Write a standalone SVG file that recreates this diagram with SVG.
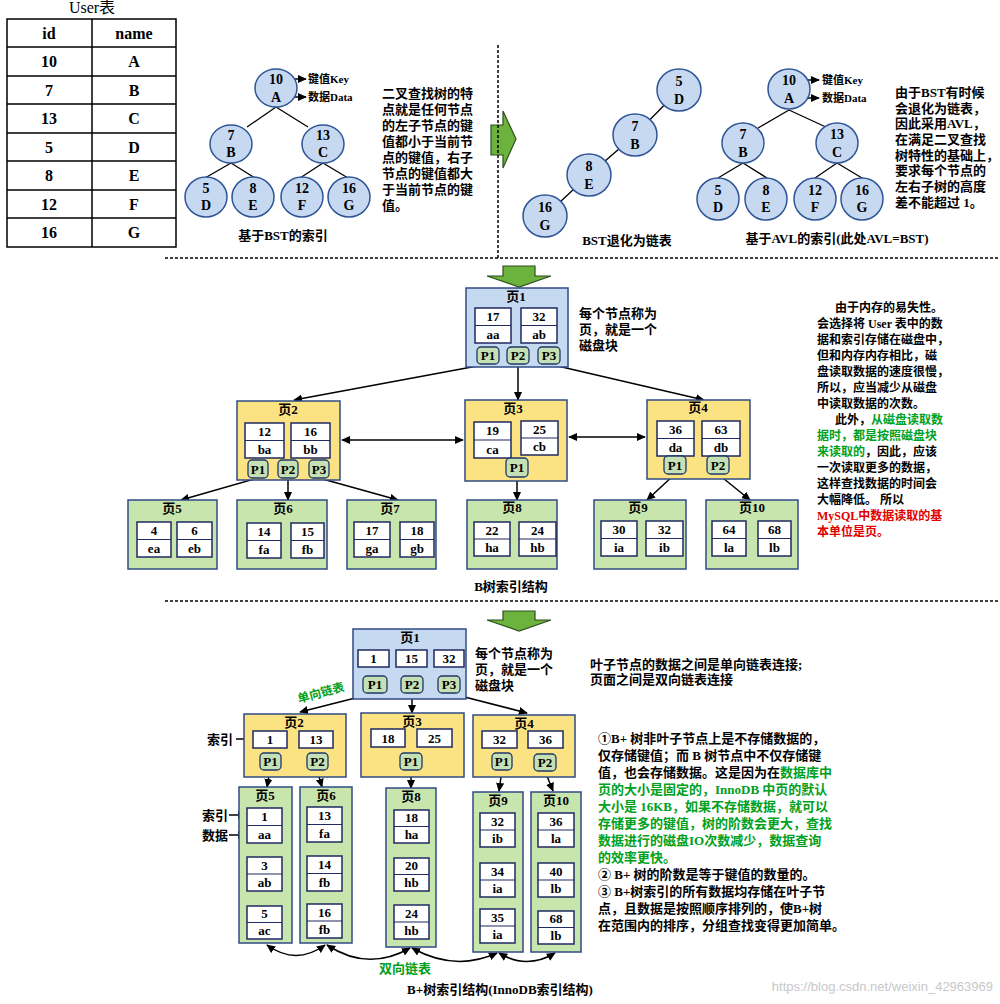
<svg xmlns="http://www.w3.org/2000/svg" width="1000" height="1004" viewBox="0 0 1000 1004">
<defs>
<marker id="ah" viewBox="0 0 10 10" refX="9" refY="5" markerWidth="6" markerHeight="6" orient="auto-start-reverse"><path d="M0,0.5 L10,5 L0,9.5 z" fill="#000"/></marker>
<style>
text{font-family:"Liberation Serif","Noto Sans CJK SC",serif;font-weight:bold;font-size:13px;fill:#000}
.m{text-anchor:middle}
.s14{font-size:14px}
.s11{font-size:11px}
.s12{font-size:12px}
.s16{font-size:16px}
.bn{fill:#c6d9f1;stroke:#2f5597;stroke-width:1.5}
.pb{fill:#c5d9f1;stroke:#2f4b85;stroke-width:1.5}
.py{fill:#fbe384;stroke:#2f4b85;stroke-width:1.5}
.pg{fill:#c9e5ae;stroke:#2f4b85;stroke-width:1.5}
.kb{fill:#fff;stroke:#1f2a60;stroke-width:1.5}
.kd{stroke:#1f2a60;stroke-width:1.2}
.pp{fill:#c5e0b4;stroke:#1f3864;stroke-width:1.3}
.cn{stroke:#000;stroke-width:1.3;fill:none}
.ar{stroke:#000;stroke-width:1.5;fill:none;marker-end:url(#ah)}
.ar2{stroke:#000;stroke-width:1.5;fill:none;marker-start:url(#ah);marker-end:url(#ah)}
.dash{stroke:#000;stroke-width:1.5;stroke-dasharray:3 2;fill:none}
.gr{fill:#00a020}
.rd{fill:#e00000}
.big{fill:#6cb33e;stroke:#2e4e1e;stroke-width:1.2}
.tb{stroke:#000;stroke-width:1.5;fill:none}
</style>
</defs>
<rect width="1000" height="1004" fill="#fff"/>

<!-- User table -->
<g id="user-table">
<text class="m s16" x="92" y="13" style="font-weight:normal">User表</text>
<rect class="tb" x="7" y="19" width="169" height="228"/>
<path class="tb" d="M7,47H176M7,76H176M7,104H176M7,133H176M7,161H176M7,190H176M7,218H176M92,19V247"/>
<text class="m s16" x="49" y="39">id</text><text class="m s16" x="134" y="39">name</text>
<text class="m s16" x="49" y="67">10</text><text class="m s16" x="134" y="67">A</text>
<text class="m s16" x="49" y="96">7</text><text class="m s16" x="134" y="96">B</text>
<text class="m s16" x="49" y="124">13</text><text class="m s16" x="134" y="124">C</text>
<text class="m s16" x="49" y="153">5</text><text class="m s16" x="134" y="153">D</text>
<text class="m s16" x="49" y="181">8</text><text class="m s16" x="134" y="181">E</text>
<text class="m s16" x="49" y="210">12</text><text class="m s16" x="134" y="210">F</text>
<text class="m s16" x="49" y="238">16</text><text class="m s16" x="134" y="238">G</text>
</g>

<!-- connectors -->
<g id="connectors">
<path class="cn" d="M276,107L247,127M276,107L308,127M231,163L205,178M231,163L255,178M323,163L300,178M323,163L348,178"/>
<path class="ar" d="M287,79H306"/><path class="ar" d="M287,97H306"/>
<path class="cn" d="M545,216L589,175L635,135L679,90"/>
<path class="cn" d="M789,110L758,128M789,110L828,128M743,163L718,178M743,163L767,178M837,163L815,178M837,163L862,178"/>
<path class="ar" d="M800,80H819"/><path class="ar" d="M800,98H819"/>
<path class="ar" d="M488,364L294,400"/>
<path class="ar" d="M518,364V400"/>
<path class="ar" d="M549,364L704,400"/>
<path class="ar2" d="M342,440H463"/>
<path class="ar2" d="M569,437H645"/>
<path class="ar" d="M258,478L181,500"/>
<path class="ar" d="M288,478V500"/>
<path class="ar" d="M319,478L398,500"/>
<path class="ar" d="M517,477V500"/>
<path class="ar" d="M675,474L647,500"/>
<path class="ar" d="M718,474L750,500"/>
<path class="ar" d="M375,693L300,712"/>
<path class="ar" d="M412,693V713"/>
<path class="ar" d="M449,693L527,713"/>
<path class="ar" d="M236,739H252"/>
<path class="ar" d="M270,770L267,787"/>
<path class="ar" d="M317,770L322,787"/>
<path class="ar" d="M411,770V788"/>
<path class="ar" d="M502,770L499,791"/>
<path class="ar" d="M545,771L553,791"/>
<path class="ar" d="M229,815H246"/>
<path class="ar" d="M229,835H246"/>
<path class="ar2" d="M267,945Q296,966 325,945"/>
<path class="ar2" d="M327,945Q368,972 410,948"/>
<path class="ar2" d="M412,948Q455,972 497,953"/>
<path class="ar2" d="M499,953Q527,970 555,953"/>
</g>

<!-- BST nodes -->
<g id="bst-10"><ellipse class="bn" cx="276" cy="88" rx="21" ry="19"/><text class="m s14" x="276" y="84">10</text><text class="m s14" x="276" y="102">A</text></g>
<g id="bst-7"><ellipse class="bn" cx="231" cy="144" rx="21" ry="19"/><text class="m s14" x="231" y="140">7</text><text class="m s14" x="231" y="157">B</text></g>
<g id="bst-13"><ellipse class="bn" cx="323" cy="144" rx="21" ry="19"/><text class="m s14" x="323" y="140">13</text><text class="m s14" x="323" y="157">C</text></g>
<g id="bst-5"><ellipse class="bn" cx="206" cy="197" rx="21" ry="20"/><text class="m s14" x="206" y="193">5</text><text class="m s14" x="206" y="210">D</text></g>
<g id="bst-8"><ellipse class="bn" cx="253" cy="197" rx="21" ry="20"/><text class="m s14" x="253" y="193">8</text><text class="m s14" x="253" y="210">E</text></g>
<g id="bst-12"><ellipse class="bn" cx="302" cy="197" rx="21" ry="20"/><text class="m s14" x="302" y="193">12</text><text class="m s14" x="302" y="210">F</text></g>
<g id="bst-16"><ellipse class="bn" cx="349" cy="197" rx="21" ry="20"/><text class="m s14" x="349" y="193">16</text><text class="m s14" x="349" y="210">G</text></g>
<g id="bst-labels"><text class="s11" x="308" y="83">键值Key</text><text class="s11" x="308" y="101">数据Data</text>
<text class="m" x="283" y="240">基于BST的索引</text></g>

<g id="bst-desc">
<text x="382" y="98">二叉查找树的特</text>
<text x="382" y="114">点就是任何节点</text>
<text x="382" y="130">的左子节点的键</text>
<text x="382" y="146">值都小于当前节</text>
<text x="382" y="162">点的键值，右子</text>
<text x="382" y="178">节点的键值都大</text>
<text x="382" y="194">于当前节点的键</text>
<text x="382" y="210">值。</text>
</g>

<g id="arrow-right"><polygon class="big" points="491,125 503,125 503,111 516,139 503,168 503,155 491,155"/></g>
<path class="dash" d="M498,45V258"/>

<g id="chain-5"><ellipse class="bn" cx="679" cy="90" rx="22" ry="21"/><text class="m s14" x="679" y="86">5</text><text class="m s14" x="679" y="104">D</text></g>
<g id="chain-7"><ellipse class="bn" cx="635" cy="135" rx="22" ry="21"/><text class="m s14" x="635" y="131">7</text><text class="m s14" x="635" y="149">B</text></g>
<g id="chain-8"><ellipse class="bn" cx="589" cy="175" rx="22" ry="21"/><text class="m s14" x="589" y="171">8</text><text class="m s14" x="589" y="189">E</text></g>
<g id="chain-16"><ellipse class="bn" cx="545" cy="216" rx="22" ry="21"/><text class="m s14" x="545" y="212">16</text><text class="m s14" x="545" y="230">G</text></g>
<text class="m" x="627" y="245">BST退化为链表</text>

<g id="avl-10"><ellipse class="bn" cx="789" cy="89" rx="21" ry="20"/><text class="m s14" x="789" y="85">10</text><text class="m s14" x="789" y="103">A</text></g>
<g id="avl-7"><ellipse class="bn" cx="743" cy="143" rx="21" ry="20"/><text class="m s14" x="743" y="139">7</text><text class="m s14" x="743" y="157">B</text></g>
<g id="avl-13"><ellipse class="bn" cx="837" cy="143" rx="21" ry="20"/><text class="m s14" x="837" y="139">13</text><text class="m s14" x="837" y="157">C</text></g>
<g id="avl-5"><ellipse class="bn" cx="718" cy="199" rx="21" ry="21"/><text class="m s14" x="718" y="195">5</text><text class="m s14" x="718" y="212">D</text></g>
<g id="avl-8"><ellipse class="bn" cx="766" cy="199" rx="21" ry="21"/><text class="m s14" x="766" y="195">8</text><text class="m s14" x="766" y="212">E</text></g>
<g id="avl-12"><ellipse class="bn" cx="815" cy="199" rx="21" ry="21"/><text class="m s14" x="815" y="195">12</text><text class="m s14" x="815" y="212">F</text></g>
<g id="avl-16"><ellipse class="bn" cx="862" cy="199" rx="21" ry="21"/><text class="m s14" x="862" y="195">16</text><text class="m s14" x="862" y="212">G</text></g>
<g id="avl-labels"><text class="s11" x="822" y="84">键值Key</text><text class="s11" x="822" y="102">数据Data</text>
<text class="m" x="837" y="243">基于AVL的索引(此处AVL=BST)</text></g>
<g id="avl-desc">
<text x="895" y="97">由于BST有时候</text>
<text x="895" y="113">会退化为链表，</text>
<text x="895" y="128">因此采用AVL，</text>
<text x="895" y="144">在满足二叉查找</text>
<text x="895" y="160">树特性的基础上，</text>
<text x="895" y="175">要求每个节点的</text>
<text x="895" y="191">左右子树的高度</text>
<text x="895" y="207">差不能超过 1。</text>
</g>

<path class="dash" d="M165,258H1000"/>
<g id="arrow-down-1"><polygon class="big" points="503,266 535,266 535,276 551,276 519,287 487,276 503,276"/></g>

<!-- B tree -->
<g id="b-page1">
<rect class="pb" x="466" y="288" width="102" height="79"/>
<text class="m" x="516" y="301">页1</text>
<rect class="kb" x="475" y="308" width="36" height="35"/><line class="kd" x1="475" y1="325.5" x2="511" y2="325.5"/>
<text class="m" x="493" y="321">17</text><text class="m" x="493" y="339">aa</text>
<rect class="kb" x="521" y="308" width="36" height="35"/><line class="kd" x1="521" y1="325.5" x2="557" y2="325.5"/>
<text class="m" x="539" y="321">32</text><text class="m" x="539" y="339">ab</text>
<rect class="pp" x="477" y="347" width="22" height="17" rx="4"/><text class="m" x="488" y="360">P1</text>
<rect class="pp" x="507" y="347" width="22" height="17" rx="4"/><text class="m" x="518" y="360">P2</text>
<rect class="pp" x="538" y="347" width="22" height="17" rx="4"/><text class="m" x="549" y="360">P3</text>
</g>
<g id="b-page1-note"><text x="579" y="318">每个节点称为</text><text x="579" y="334">页，就是一个</text><text x="579" y="350">磁盘块</text></g>

<g id="b-page2">
<rect class="py" x="237" y="401" width="103" height="79"/>
<text class="m" x="288" y="414">页2</text>
<rect class="kb" x="245" y="423" width="39" height="35"/><line class="kd" x1="245" y1="440.5" x2="284" y2="440.5"/>
<text class="m" x="264.5" y="436">12</text><text class="m" x="264.5" y="454">ba</text>
<rect class="kb" x="291" y="423" width="39" height="35"/><line class="kd" x1="291" y1="440.5" x2="330" y2="440.5"/>
<text class="m" x="310.5" y="436">16</text><text class="m" x="310.5" y="454">bb</text>
<rect class="pp" x="248" y="460" width="20" height="18" rx="4"/><text class="m" x="258" y="474">P1</text>
<rect class="pp" x="278" y="460" width="20" height="18" rx="4"/><text class="m" x="288" y="474">P2</text>
<rect class="pp" x="309" y="460" width="20" height="18" rx="4"/><text class="m" x="319" y="474">P3</text>
</g>
<g id="b-page3">
<rect class="py" x="465" y="400" width="102" height="81"/>
<text class="m" x="513" y="413">页3</text>
<rect class="kb" x="474" y="422" width="37" height="36"/><line class="kd" x1="474" y1="440" x2="511" y2="440"/>
<text class="m" x="492.5" y="435">19</text><text class="m" x="492.5" y="454">ca</text>
<rect class="kb" x="521" y="421" width="37" height="34"/><line class="kd" x1="521" y1="438" x2="558" y2="438"/>
<text class="m" x="539.5" y="434">25</text><text class="m" x="539.5" y="451">cb</text>
<rect class="pp" x="506" y="458" width="22" height="19" rx="4"/><text class="m" x="517" y="472">P1</text>
</g>
<g id="b-page4">
<rect class="py" x="647" y="400" width="103" height="79"/>
<text class="m" x="698" y="412">页4</text>
<rect class="kb" x="657" y="421" width="37" height="35"/><line class="kd" x1="657" y1="438.5" x2="694" y2="438.5"/>
<text class="m" x="675.5" y="434">36</text><text class="m" x="675.5" y="452">da</text>
<rect class="kb" x="702" y="421" width="38" height="35"/><line class="kd" x1="702" y1="438.5" x2="740" y2="438.5"/>
<text class="m" x="721" y="434">63</text><text class="m" x="721" y="452">db</text>
<rect class="pp" x="664" y="456" width="22" height="18" rx="4"/><text class="m" x="675" y="470">P1</text>
<rect class="pp" x="707" y="456" width="22" height="18" rx="4"/><text class="m" x="718" y="470">P2</text>
</g>

<g id="b-page5">
<rect class="pg" x="128" y="500" width="89" height="69"/>
<text class="m" x="172" y="513">页5</text>
<rect class="kb" x="137" y="522" width="34" height="35"/><line class="kd" x1="137" y1="539.5" x2="171" y2="539.5"/>
<text class="m" x="154" y="535">4</text><text class="m" x="154" y="553">ea</text>
<rect class="kb" x="177" y="522" width="35" height="35"/><line class="kd" x1="177" y1="539.5" x2="212" y2="539.5"/>
<text class="m" x="194.5" y="535">6</text><text class="m" x="194.5" y="553">eb</text>
</g>
<g id="b-page6">
<rect class="pg" x="237" y="500" width="90" height="69"/>
<text class="m" x="283" y="513">页6</text>
<rect class="kb" x="247" y="523" width="34" height="35"/><line class="kd" x1="247" y1="540.5" x2="281" y2="540.5"/>
<text class="m" x="264" y="536">14</text><text class="m" x="264" y="554">fa</text>
<rect class="kb" x="291" y="523" width="33" height="35"/><line class="kd" x1="291" y1="540.5" x2="324" y2="540.5"/>
<text class="m" x="307.5" y="536">15</text><text class="m" x="307.5" y="554">fb</text>
</g>
<g id="b-page7">
<rect class="pg" x="347" y="500" width="89" height="69"/>
<text class="m" x="390" y="513">页7</text>
<rect class="kb" x="354" y="522" width="36" height="35"/><line class="kd" x1="354" y1="539.5" x2="390" y2="539.5"/>
<text class="m" x="372" y="535">17</text><text class="m" x="372" y="553">ga</text>
<rect class="kb" x="400" y="522" width="34" height="35"/><line class="kd" x1="400" y1="539.5" x2="434" y2="539.5"/>
<text class="m" x="417" y="535">18</text><text class="m" x="417" y="553">gb</text>
</g>
<g id="b-page8">
<rect class="pg" x="467" y="500" width="90" height="69"/>
<text class="m" x="512" y="512">页8</text>
<rect class="kb" x="474" y="522" width="36" height="34"/><line class="kd" x1="474" y1="539" x2="510" y2="539"/>
<text class="m" x="492" y="535">22</text><text class="m" x="492" y="552">ha</text>
<rect class="kb" x="519" y="522" width="37" height="34"/><line class="kd" x1="519" y1="539" x2="556" y2="539"/>
<text class="m" x="537.5" y="535">24</text><text class="m" x="537.5" y="552">hb</text>
</g>
<g id="b-page9">
<rect class="pg" x="594" y="500" width="92" height="69"/>
<text class="m" x="638" y="512">页9</text>
<rect class="kb" x="601" y="521" width="36" height="35"/><line class="kd" x1="601" y1="538.5" x2="637" y2="538.5"/>
<text class="m" x="619" y="534">30</text><text class="m" x="619" y="552">ia</text>
<rect class="kb" x="646" y="521" width="37" height="35"/><line class="kd" x1="646" y1="538.5" x2="683" y2="538.5"/>
<text class="m" x="664.5" y="534">32</text><text class="m" x="664.5" y="552">ib</text>
</g>
<g id="b-page10">
<rect class="pg" x="706" y="500" width="92" height="69"/>
<text class="m" x="752" y="512">页10</text>
<rect class="kb" x="712" y="521" width="34" height="35"/><line class="kd" x1="712" y1="538.5" x2="746" y2="538.5"/>
<text class="m" x="729" y="534">64</text><text class="m" x="729" y="552">la</text>
<rect class="kb" x="758" y="521" width="33" height="35"/><line class="kd" x1="758" y1="538.5" x2="791" y2="538.5"/>
<text class="m" x="774.5" y="534">68</text><text class="m" x="774.5" y="552">lb</text>
</g>
<text class="m" x="511" y="591">B树索引结构</text>

<g id="b-desc">
<text class="s12" x="835" y="312">由于内存的易失性。</text>
<text class="s12" x="817" y="328">会选择将 User 表中的数</text>
<text class="s12" x="817" y="344">据和索引存储在磁盘中，</text>
<text class="s12" x="817" y="360">但和内存内存相比，磁</text>
<text class="s12" x="817" y="376">盘读取数据的速度很慢，</text>
<text class="s12" x="817" y="392">所以，应当减少从磁盘</text>
<text class="s12" x="817" y="408">中读取数据的次数。</text>
<text class="s12" x="835" y="424">此外，<tspan class="gr">从磁盘读取数</tspan></text>
<text class="s12 gr" x="817" y="440">据时，都是按照磁盘块</text>
<text class="s12" x="817" y="456"><tspan class="gr">来读取的</tspan>，因此，应该</text>
<text class="s12" x="817" y="472">一次读取更多的数据，</text>
<text class="s12" x="817" y="488">这样查找数据的时间会</text>
<text class="s12" x="817" y="504">大幅降低。 所以</text>
<text class="s12 rd" x="817" y="520">MySQL中数据读取的基</text>
<text class="s12 rd" x="817" y="536">本单位是页。</text>
</g>

<path class="dash" d="M165,601H1000"/>
<g id="arrow-down-2"><polygon class="big" points="503,611 535,611 535,620 551,620 519,631 487,620 503,620"/></g>

<!-- B+ tree -->
<g id="bp-page1">
<rect class="pb" x="353" y="629" width="113" height="70"/>
<text class="m" x="410" y="642">页1</text>
<rect class="kb" x="358" y="650" width="31" height="17"/><text class="m" x="373.5" y="663">1</text>
<rect class="kb" x="396" y="650" width="31" height="17"/><text class="m" x="411.5" y="663">15</text>
<rect class="kb" x="434" y="650" width="30" height="17"/><text class="m" x="449" y="663">32</text>
<rect class="pp" x="363" y="676" width="24" height="17" rx="4"/><text class="m" x="375" y="689">P1</text>
<rect class="pp" x="401" y="676" width="22" height="17" rx="4"/><text class="m" x="412" y="689">P2</text>
<rect class="pp" x="438" y="676" width="22" height="17" rx="4"/><text class="m" x="449" y="689">P3</text>
</g>
<g id="bp-page1-note"><text x="475" y="658">每个节点称为</text><text x="475" y="674">页，就是一个</text><text x="475" y="690">磁盘块</text></g>
<text class="m gr s12" x="321" y="697" transform="rotate(-15 321 693)">单向链表</text>

<g id="bp-page2">
<rect class="py" x="244" y="714" width="102" height="63"/>
<text class="m" x="294" y="727">页2</text>
<rect class="kb" x="253" y="731" width="34" height="17"/><text class="m" x="270" y="744">1</text>
<rect class="kb" x="299" y="731" width="34" height="17"/><text class="m" x="316" y="744">13</text>
<rect class="pp" x="260" y="753" width="21" height="17" rx="4"/><text class="m" x="270.5" y="766">P1</text>
<rect class="pp" x="307" y="753" width="21" height="17" rx="4"/><text class="m" x="317.5" y="766">P2</text>
</g>
<text x="207" y="744">索引</text>
<g id="bp-page3">
<rect class="py" x="361" y="713" width="103" height="64"/>
<text class="m" x="412" y="726">页3</text>
<rect class="kb" x="371" y="729" width="34" height="18"/><text class="m" x="388" y="743">18</text>
<rect class="kb" x="417" y="729" width="35" height="18"/><text class="m" x="434.5" y="743">25</text>
<rect class="pp" x="400" y="753" width="22" height="17" rx="4"/><text class="m" x="411" y="766">P1</text>
</g>
<g id="bp-page4">
<rect class="py" x="473" y="715" width="102" height="62"/>
<text class="m" x="524" y="728">页4</text>
<rect class="kb" x="482" y="731" width="35" height="17"/><text class="m" x="499.5" y="744">32</text>
<rect class="kb" x="528" y="731" width="35" height="17"/><text class="m" x="545.5" y="744">36</text>
<rect class="pp" x="492" y="753" width="20" height="17" rx="4"/><text class="m" x="502" y="766">P1</text>
<rect class="pp" x="534" y="754" width="22" height="17" rx="4"/><text class="m" x="545" y="767">P2</text>
</g>

<g id="bp-page5">
<rect class="pg" x="239" y="787" width="53" height="156"/>
<text class="m" x="265" y="800">页5</text>
<rect class="kb" x="247" y="808" width="35" height="35"/><line class="kd" x1="247" y1="825.5" x2="282" y2="825.5"/>
<text class="m" x="264.5" y="821">1</text><text class="m" x="264.5" y="839">aa</text>
<rect class="kb" x="247" y="857" width="35" height="34"/><line class="kd" x1="247" y1="874" x2="282" y2="874"/>
<text class="m" x="264.5" y="870">3</text><text class="m" x="264.5" y="887">ab</text>
<rect class="kb" x="247" y="906" width="35" height="33"/><line class="kd" x1="247" y1="922.5" x2="282" y2="922.5"/>
<text class="m" x="264.5" y="918">5</text><text class="m" x="264.5" y="935">ac</text>
</g>
<text x="202" y="820">索引</text>
<text x="202" y="840">数据</text>
<g id="bp-page6">
<rect class="pg" x="300" y="787" width="52" height="156"/>
<text class="m" x="326" y="800">页6</text>
<rect class="kb" x="307" y="807" width="35" height="35"/><line class="kd" x1="307" y1="824.5" x2="342" y2="824.5"/>
<text class="m" x="324.5" y="820">13</text><text class="m" x="324.5" y="838">fa</text>
<rect class="kb" x="307" y="856" width="35" height="35"/><line class="kd" x1="307" y1="873.5" x2="342" y2="873.5"/>
<text class="m" x="324.5" y="869">14</text><text class="m" x="324.5" y="887">fb</text>
<rect class="kb" x="307" y="904" width="35" height="34"/><line class="kd" x1="307" y1="921" x2="342" y2="921"/>
<text class="m" x="324.5" y="917">16</text><text class="m" x="324.5" y="934">fb</text>
</g>
<g id="bp-page8">
<rect class="pg" x="386" y="788" width="50" height="159"/>
<text class="m" x="411" y="801">页8</text>
<rect class="kb" x="394" y="810" width="35" height="33"/><line class="kd" x1="394" y1="826.5" x2="429" y2="826.5"/>
<text class="m" x="411.5" y="822">18</text><text class="m" x="411.5" y="839">ha</text>
<rect class="kb" x="394" y="858" width="35" height="33"/><line class="kd" x1="394" y1="874.5" x2="429" y2="874.5"/>
<text class="m" x="411.5" y="870">20</text><text class="m" x="411.5" y="887">hb</text>
<rect class="kb" x="394" y="905" width="35" height="34"/><line class="kd" x1="394" y1="922" x2="429" y2="922"/>
<text class="m" x="411.5" y="918">24</text><text class="m" x="411.5" y="935">hb</text>
</g>
<g id="bp-page9">
<rect class="pg" x="473" y="792" width="50" height="160"/>
<text class="m" x="498" y="805">页9</text>
<rect class="kb" x="480" y="813" width="35" height="34"/><line class="kd" x1="480" y1="830" x2="515" y2="830"/>
<text class="m" x="497.5" y="826">32</text><text class="m" x="497.5" y="843">ib</text>
<rect class="kb" x="480" y="863" width="35" height="34"/><line class="kd" x1="480" y1="880" x2="515" y2="880"/>
<text class="m" x="497.5" y="876">34</text><text class="m" x="497.5" y="893">ia</text>
<rect class="kb" x="480" y="909" width="35" height="34"/><line class="kd" x1="480" y1="926" x2="515" y2="926"/>
<text class="m" x="497.5" y="922">35</text><text class="m" x="497.5" y="939">ia</text>
</g>
<g id="bp-page10">
<rect class="pg" x="531" y="792" width="50" height="160"/>
<text class="m" x="556" y="805">页10</text>
<rect class="kb" x="538" y="813" width="36" height="34"/><line class="kd" x1="538" y1="830" x2="574" y2="830"/>
<text class="m" x="556" y="826">36</text><text class="m" x="556" y="843">la</text>
<rect class="kb" x="538" y="863" width="36" height="34"/><line class="kd" x1="538" y1="880" x2="574" y2="880"/>
<text class="m" x="556" y="876">40</text><text class="m" x="556" y="893">lb</text>
<rect class="kb" x="538" y="911" width="36" height="33"/><line class="kd" x1="538" y1="927.5" x2="574" y2="927.5"/>
<text class="m" x="556" y="923">68</text><text class="m" x="556" y="940">lb</text>
</g>
<text class="m gr" x="405" y="973">双向链表</text>
<text class="m" x="500" y="994">B+树索引结构(InnoDB索引结构)</text>

<g id="bp-note">
<text x="590" y="669">叶子节点的数据之间是单向链表连接;</text>
<text x="590" y="684">页面之间是双向链表连接</text>
</g>
<g id="bp-desc">
<text x="598" y="743">①B+ 树非叶子节点上是不存储数据的，</text>
<text x="598" y="760">仅存储键值；而 B 树节点中不仅存储键</text>
<text x="598" y="777">值，也会存储数据。这是因为在<tspan class="gr">数据库中</tspan></text>
<text class="gr" x="598" y="794">页的大小是固定的，InnoDB 中页的默认</text>
<text class="gr" x="598" y="811">大小是 16KB，如果不存储数据，就可以</text>
<text class="gr" x="598" y="828">存储更多的键值，树的阶数会更大，查找</text>
<text class="gr" x="598" y="845">数据进行的磁盘IO次数减少，数据查询</text>
<text class="gr" x="598" y="862">的效率更快。</text>
<text x="598" y="879">② B+ 树的阶数是等于键值的数量的。</text>
<text x="598" y="896">③ B+树索引的所有数据均存储在叶子节</text>
<text x="598" y="913">点，且数据是按照顺序排列的，使B+树</text>
<text x="598" y="930">在范围内的排序，分组查找变得更加简单。</text>
</g>
<text x="993" y="991" style="font-family:'Liberation Sans',sans-serif;font-weight:normal;font-size:13px;fill:#c8c8c8;text-anchor:end">https://blog.csdn.net/weixin_42963969</text>
</svg>
